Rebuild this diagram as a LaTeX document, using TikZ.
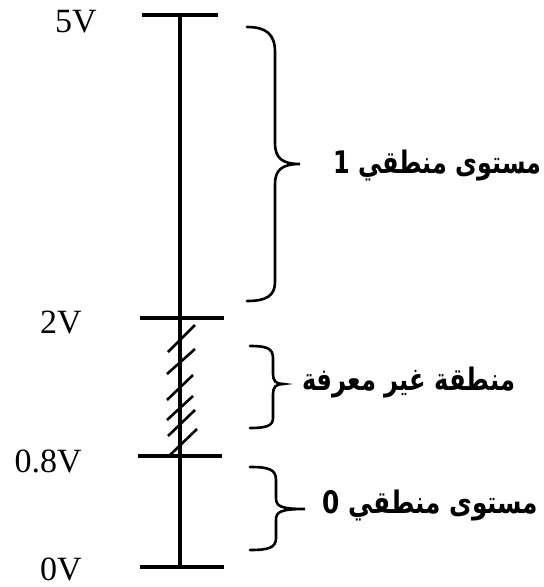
\documentclass[tikz,border=0pt]{standalone}
\usepackage{fontspec}
\setmainfont{Liberation Serif}
\newfontfamily\arabicfont[Script=Arabic]{DejaVu Sans}
\TeXXeTstate=1
\begin{document}
\begin{tikzpicture}[x=1pt,y=-1pt,
  axis/.style={line width=3.2pt},
  hatch/.style={line width=2.6pt},
  bracepath/.style={line width=2.6pt,line cap=round},
  vlabel/.style={anchor=base east,inner sep=0pt,font=\fontsize{34}{36}\selectfont},
  alabel/.style={anchor=west,inner sep=0pt,font=\arabicfont\bfseries\fontsize{31}{34}\selectfont}]
\useasboundingbox (0,0) rectangle (544,587);
% axis coordinates
\coordinate (top) at (180,15);
\coordinate (bot) at (180,567);
\coordinate (t5l) at (142,15);  \coordinate (t5r) at (218,15);
\coordinate (t2l) at (140,318); \coordinate (t2r) at (224,318);
\coordinate (t08l) at (138,456); \coordinate (t08r) at (222,456);
\coordinate (t0l) at (140,567); \coordinate (t0r) at (224,567);
\draw[axis] (top) -- (bot);
\draw[axis] (t5l) -- (t5r);
\draw[axis] (t2l) -- (t2r);
\draw[axis] (t08l) -- (t08r);
\draw[axis] (t0l) -- (t0r);
% hatch marks
\foreach \a/\b/\c/\d [count=\i] in {168/352/195/325, 167/374/195/349, 167/400/193/375, 167/420/193/396, 168/436/195/410, 170/455/197/429}{
  \coordinate (h\i a) at (\a,\b); \coordinate (h\i b) at (\c,\d);
  \draw[hatch] (h\i a) -- (h\i b);
}
% voltage labels
\node[vlabel] (v5) at (97,32) {5V};
\node[vlabel] (v2) at (82,333) {2V};
\node[vlabel] (v08) at (82,472) {0.8V};
\node[vlabel] (v0) at (82,580) {0V};
% braces
\draw[bracepath] (247,27) .. controls (266,27) and (275,34) .. (275,52) -- (275,143)
  .. controls (275,158) and (282,164) .. (300,164)
  .. controls (282,164) and (275,170) .. (275,184) -- (275,282)
  .. controls (275,296) and (266,301) .. (247,301);
\draw[bracepath] (250,346) .. controls (266,346) and (273,348) .. (273,358) -- (273,374)
  .. controls (273,381) and (276,384) .. (283,384)
  .. controls (276,384) and (273,387) .. (273,394) -- (273,418)
  .. controls (273,426) and (266,428) .. (250,428);
\draw[bracepath] (250,467) .. controls (268,467) and (276,469) .. (276,480) -- (276,498)
  .. controls (276,506) and (280,509) .. (305,509)
  .. controls (280,509) and (276,512) .. (276,520) -- (276,538)
  .. controls (276,548) and (268,550) .. (250,550);
% arabic labels
\node[alabel] (l1) at (333,166) {\scalebox{0.77}[1]{\beginR مستوى منطقي 1\endR}};
\node[alabel] (lu) at (302,383) {\scalebox{0.78}[1]{\beginR منطقة غير معرفة\endR}};
\node[alabel] (l0) at (322,506) {\scalebox{0.8}[1]{\beginR مستوى منطقي 0\endR}};
\end{tikzpicture}
\end{document}
